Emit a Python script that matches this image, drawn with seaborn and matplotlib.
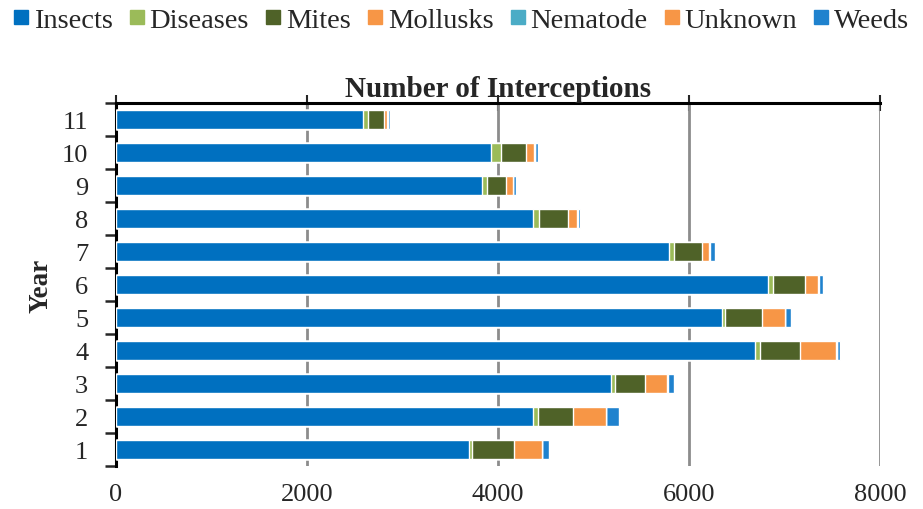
import numpy as np
import pandas as pd
import matplotlib
matplotlib.use("Agg")
import matplotlib.pyplot as plt
from matplotlib.lines import Line2D
import seaborn as sns

# values, year 1 .. 11
years = ["1", "2", "3", "4", "5", "6", "7", "8", "9", "10", "11"]
insects = [3696, 4370, 5183, 6691, 6346, 6830, 5791, 4370, 3832, 3930, 2590]
diseases = [32, 46, 42, 49, 28, 50, 49, 59, 50, 100, 49]
mites = [440, 369, 318, 425, 394, 335, 296, 307, 205, 262, 167]
mollusks = [290, 343, 227, 378, 234, 136, 74, 92, 67, 88, 36]
nematode = [3, 3, 3, 3, 3, 3, 3, 3, 3, 3, 3]
unknown = [3, 3, 3, 3, 3, 3, 3, 3, 3, 3, 3]
weeds = [67, 133, 70, 32, 57, 46, 56, 20, 28, 35, 20]

series = ["Insects", "Diseases", "Mites", "Mollusks", "Nematode", "Unknown", "Weeds"]
colors = ["#0070C0", "#9BBB59", "#4F6228", "#F79646", "#4BACC6", "#F79646", "#1F82CE"]

df = pd.DataFrame({"Year": years, "Insects": insects, "Diseases": diseases,
                   "Mites": mites, "Mollusks": mollusks, "Nematode": nematode,
                   "Unknown": unknown, "Weeds": weeds})
order = years[::-1]

sns.set_style("white")
plt.rcParams["font.family"] = ["Liberation Serif", "DejaVu Serif"]

fig = plt.figure(figsize=(9.23, 5.10), dpi=100)
ax = fig.add_axes([116 / 923, 1 - 467 / 510, (880 - 116) / 923, (467 - 104) / 510])

# stacked bars: draw cumulative totals from the last series back to the first
cum = df[series].cumsum(axis=1)
for name, col in list(zip(series, colors))[::-1]:
    sns.barplot(data=cum.assign(Year=df["Year"]), x=name, y="Year", order=order,
                color=col, width=0.58, saturation=1, ax=ax, zorder=3)

ax.set_xlim(0, 8000)
ax.set_xticks([0, 2000, 4000, 6000, 8000])
for v in [2000, 4000, 6000, 8000]:
    ax.axvline(v, color="#8c8c8c", lw=2, ls="-", zorder=1)

ax.spines["bottom"].set_visible(False)
ax.spines["right"].set_visible(False)
ax.spines["top"].set_linewidth(2.2)
ax.spines["left"].set_linewidth(2.2)
ax.spines["top"].set_color("black")
ax.spines["left"].set_color("black")

ax.tick_params(axis="x", top=True, bottom=False, labeltop=False, labelbottom=True,
               direction="inout", length=12, width=1.5, labelsize=19, pad=6)
ax.tick_params(axis="y", which="major", left=False, length=0, labelsize=19, pad=20)
ax.set_yticks(np.arange(len(order) + 1) - 0.5, minor=True)
ax.tick_params(axis="y", which="minor", left=True, direction="out", length=8, width=1.8)
ax.set_ylim(len(order) - 0.5, -0.5)

ax.set_xlabel("")
ax.set_ylabel("Year", fontsize=19.5, fontweight="bold", labelpad=6)
ax.set_title("Number of Interceptions", fontsize=21, fontweight="bold", pad=5)

handles = [Line2D([0], [0], marker="s", linestyle="", markersize=10,
                  markerfacecolor=c, markeredgecolor=c) for c in colors]
fig.legend(handles, series, loc="upper center", bbox_to_anchor=(0.5, 1.006), ncol=7,
           frameon=False, fontsize=20.5, handlelength=0.5, handletextpad=0.2,
           columnspacing=0.6, borderaxespad=0)

fig.savefig("out.png", dpi=100)
